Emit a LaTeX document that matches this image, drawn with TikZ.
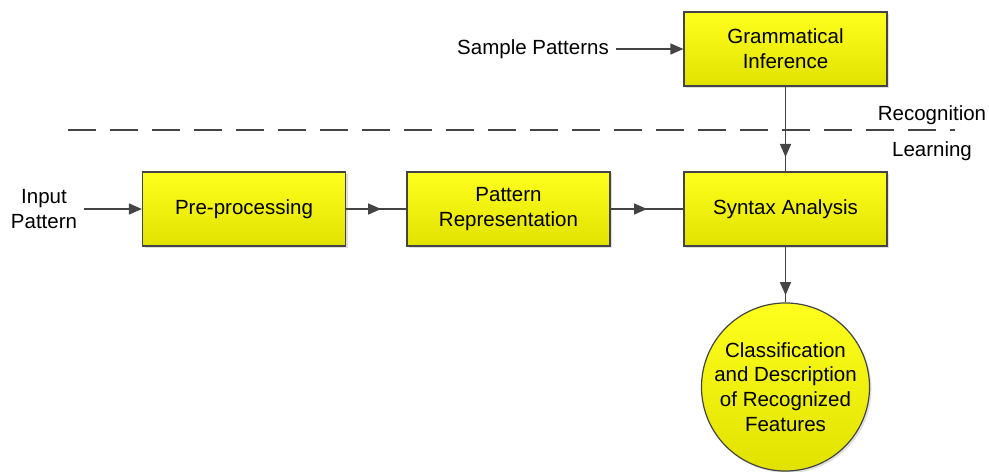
\documentclass[tikz,border=0pt]{standalone}
\usepackage{fontspec}
\setmainfont{Liberation Sans}
\usetikzlibrary{arrows.meta,decorations.markings,shadows}

\definecolor{jauneHaut}{HTML}{FFFF1E}
\definecolor{jauneBas}{HTML}{E2E200}
\definecolor{trait}{HTML}{444444}

\begin{document}
\begin{tikzpicture}[x=0.5pt, y=-0.5pt,
  font=\fontsize{10.25}{12.4}\selectfont,
  bloc/.style={draw=trait, line width=0.6pt, top color=jauneHaut, bottom color=jauneBas,
    minimum width=101.5pt, minimum height=37pt, align=center,
    drop shadow={shadow xshift=1pt, shadow yshift=-1pt, opacity=0.25}},
  rond/.style={bloc, circle, minimum size=82pt, inner sep=0pt},
  fleche/.style={color=trait, line width=0.75pt, -{Triangle[length=6.5pt,width=5.5pt]}},
  flechemilieu/.style={color=trait, line width=0.75pt, postaction={decorate},
    decoration={markings, mark=at position #1 with {\arrow{Triangle[length=6.5pt,width=5.5pt]}}}}]

\useasboundingbox (0,0) rectangle (989,471);

% Blocs du traitement
\node[bloc] (pre) at (244,209) {Pre-processing};
\node[bloc] (rep) at (508.5,209) {Pattern\\Representation};
\node[bloc] (syn) at (785.5,209) {Syntax Analysis};
\node[bloc] (gram) at (785.5,49) {Grammatical\\Inference};
\node[rond] (classif) at (785.5,387) {Classification\\and Description\\of Recognized\\Features};

% Textes
\node[align=center] (entree) at (44,209) {Input\\Pattern};
\node (echant) at (533,49) {Sample Patterns};
\node (reco) at (932,115) {Recognition};
\node (appr) at (932,151) {Learning};

% Separation reconnaissance / apprentissage
\draw[trait, line width=0.75pt, dash pattern=on 14pt off 7pt] (68,130) -- (955,130);

% Fleches
\draw[fleche] (entree) -- (pre);
\draw[flechemilieu=0.58] (pre) -- (rep);
\draw[flechemilieu=0.5] (rep) -- (syn);
\draw[fleche] (echant) -- (gram);
\draw[flechemilieu=0.83] (gram) -- (syn);
\draw[flechemilieu=0.87] (syn) -- (classif);

\end{tikzpicture}
\end{document}
